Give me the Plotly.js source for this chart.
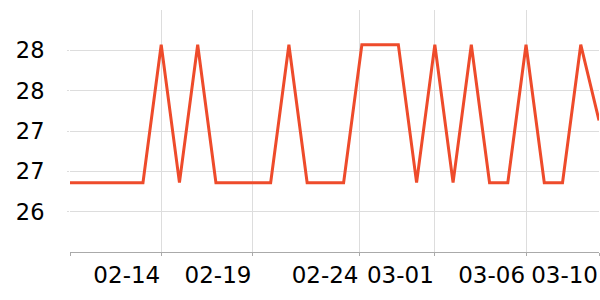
<!DOCTYPE html>
<html>
<head>
<meta charset="utf-8">
<script src="https://cdn.plot.ly/plotly-3.0.1.min.js"></script>
<style>html,body{margin:0;padding:0;background:#fff;}#chart{width:600px;height:300px;}</style>
</head>
<body>
<div id="chart"></div>
<script>
var dates = ['02-09','02-10','02-11','02-12','02-13','02-14','02-15','02-16','02-17','02-18',
             '02-19','02-20','02-21','02-22','02-23','02-24','02-25','02-26','02-27','02-28',
             '03-01','03-02','03-03','03-04','03-05','03-06','03-07','03-08','03-09','03-10'];
var values = [26.36,26.36,26.36,26.36,26.36,28.07,26.36,28.07,26.36,26.36,
              26.36,26.36,28.07,26.36,26.36,26.36,28.07,28.07,28.07,26.36,
              28.07,26.36,28.07,26.36,26.36,28.07,26.36,26.36,28.07,27.13];
var xTickVals = [0, 5, 10, 15.87, 20, 25, 29];
var xTickText = ['', '02-14', '02-19', '02-24', '03-01', '03-06', '03-10'];
var yTickVals = [26, 26.5, 27, 27.5, 28];

var trace = {
  x: dates, y: values, type: 'scatter', mode: 'lines',
  line: {color: '#ee4b2b', width: 3},
  hoverinfo: 'skip'
};
var layout = {
  width: 600, height: 300,
  margin: {l: 70, r: 1, t: 10, b: 48},
  paper_bgcolor: '#fff', plot_bgcolor: '#fff',
  font: {family: 'DejaVu Sans', size: 23, color: '#000'},
  showlegend: false,
  xaxis: {
    type: 'category', range: [0, 29],
    tickmode: 'array', tickvals: xTickVals, ticktext: xTickText,
    ticklabelposition: 'outside left', tickangle: 0,
    ticklabelstandoff: 2,
    showgrid: true, gridcolor: '#dddddd', gridwidth: 1,
    showline: true, linecolor: '#aaaaaa', linewidth: 1,
    ticks: 'outside', ticklen: 3, tickcolor: '#aaaaaa',
    zeroline: false,
    tickfont: {family: 'DejaVu Sans', size: 23, color: '#000'}
  },
  yaxis: {
    range: [25.5, 28.5],
    tickmode: 'array', tickvals: yTickVals, tickformat: '.0f',
    showgrid: true, gridcolor: '#dddddd', gridwidth: 1,
    showline: false, zeroline: false,
    ticks: 'outside', ticklen: 2, tickcolor: '#dddddd',
    ticklabelposition: 'outside',
    ticklabelstandoff: 18,
    tickfont: {family: 'DejaVu Sans', size: 22.5, color: '#000'}
  }
};
Plotly.newPlot('chart', [trace], layout, {displayModeBar: false, staticPlot: true});
</script>
</body>
</html>
